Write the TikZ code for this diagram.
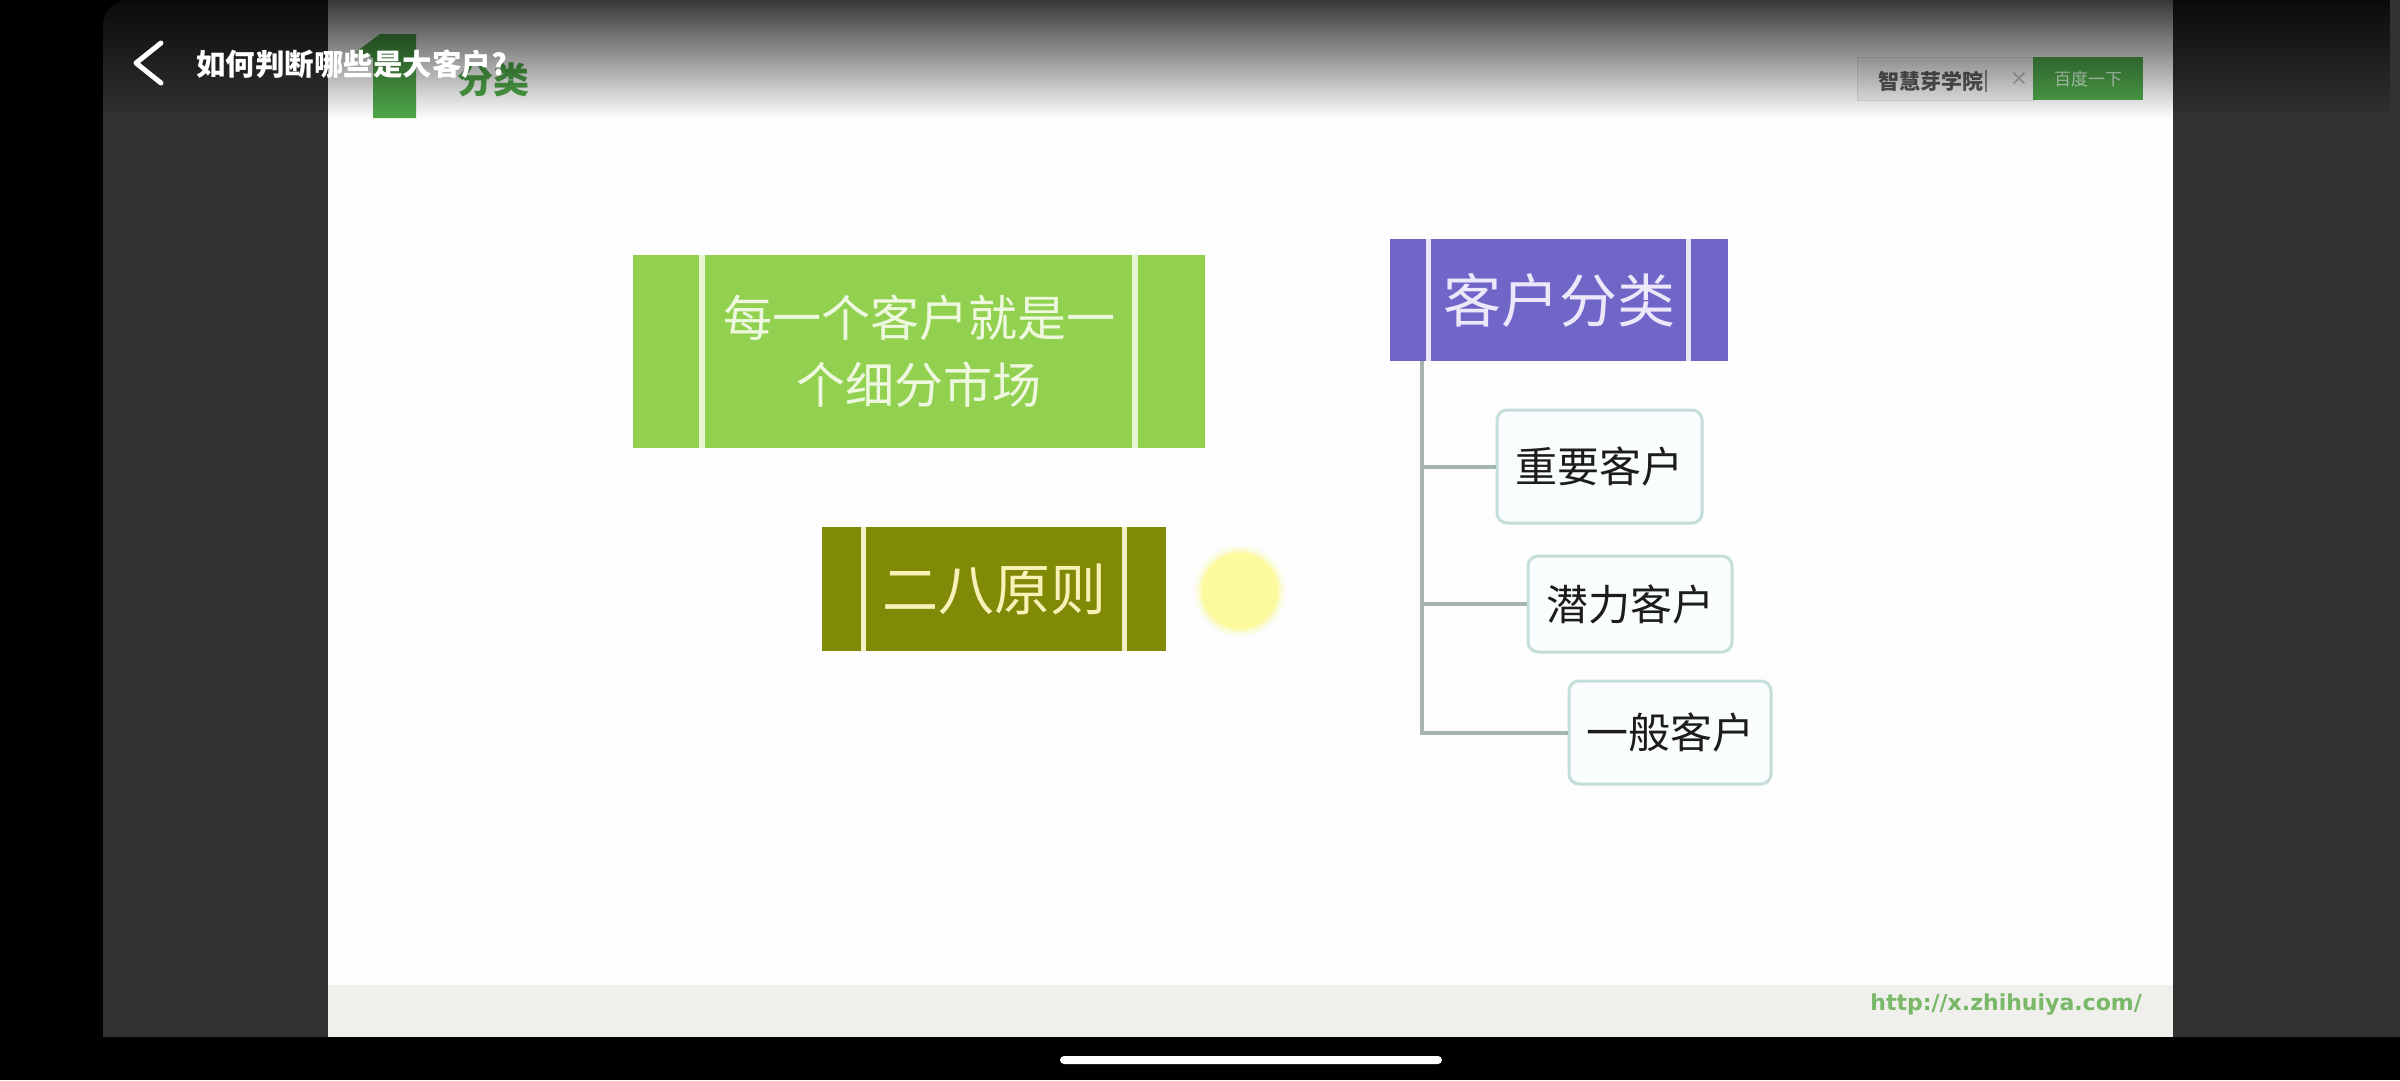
\documentclass[tikz,border=0pt]{standalone}
\usepackage{fontspec}
\setmainfont{Noto Sans CJK SC}
\newfontfamily\dvs{DejaVu Sans}
\usetikzlibrary{fadings}
\tikzfading[name=topfade, top color=transparent!22, middle color=transparent!78, bottom color=transparent!100]
\definecolor{panelc}{HTML}{323233}
\definecolor{slidec}{HTML}{FDFDFD}
\definecolor{bandc}{HTML}{EFEFEB}
\definecolor{boxA}{HTML}{92D050}
\definecolor{sepA}{HTML}{E6F4D2}
\definecolor{txtA}{HTML}{EEF8DE}
\definecolor{boxB}{HTML}{808A06}
\definecolor{sepB}{HTML}{F2F0C2}
\definecolor{txtB}{HTML}{F6F2B8}
\definecolor{boxC}{HTML}{7066C8}
\definecolor{sepC}{HTML}{E8E6F8}
\definecolor{txtC}{HTML}{ECE8FA}
\definecolor{childb}{HTML}{C4DEDA}
\definecolor{childf}{HTML}{FAFDFD}
\definecolor{childt}{HTML}{1C1C1C}
\definecolor{linkc}{HTML}{A6B6AE}
\definecolor{greenlogo}{HTML}{4FA84A}
\definecolor{urlc}{HTML}{78B868}
\definecolor{spotc}{HTML}{FBFA9C}
\definecolor{btnc}{HTML}{50A84C}
\tikzset{
  catbox/.style={inner sep=0pt, align=center},
  child/.style={draw=childb, line width=3pt, fill=childf, rounded corners=10pt,
    inner sep=0pt, text=childt, font=\fontsize{42}{50}\selectfont, minimum width=#1},
  link/.style={draw=linkc, line width=4pt},
}
\begin{document}
\begin{tikzpicture}[x=1pt,y=-1pt]
\useasboundingbox (0,0) rectangle (2400,1080);
\fill[black] (0,0) rectangle (2400,1080);
% dark app panel
\fill[panelc] (103,1037) {[rounded corners=25pt] -- (103,0) -- (600,0)} -- (2400,0) -- (2400,1037) -- cycle;
% slide
\fill[slidec] (328,0) rectangle (2173,1037);
\fill[bandc] (328,985) rectangle (2173,1037);
% slide header: green "1" and title
\fill[greenlogo] (356,52) -- (380,34) -- (416,34) -- (416,118) -- (373,118) -- (373,58) -- cycle;
\node[anchor=west, inner sep=0pt, text=greenlogo, font=\bfseries\fontsize{36}{40}\selectfont] (sec) at (457,80) {分类};
% search box
\node[fill=black!5, draw=black!13, line width=1pt, minimum width=176pt, minimum height=43pt, inner sep=0pt] (search) at (1945,78.5) {};
\node[anchor=west, inner sep=0pt, text=black!65, font=\bfseries\fontsize{21}{24}\selectfont] (stext) at (1878,81) {智慧芽学院};
\draw[black!45, line width=1.5pt] (1986,70) -- (1986,92);
\node[inner sep=0pt, text=black!28, font=\dvs\fontsize{22}{24}\selectfont] (close) at (2019,79) {×};
\node[fill=btnc, minimum width=110pt, minimum height=43pt, inner sep=0pt, text=green!8!white!85!btnc, font=\fontsize{17}{20}\selectfont] (btn) at (2088,78.5) {百度一下};
% green box
\node[catbox, fill=boxA, text=txtA, minimum width=572pt, minimum height=193pt, font=\fontsize{49}{67}\selectfont] (A) at (919,351.5) {每一个客户就是一\\个细分市场};
\draw[sepA, line width=6pt] ([xshift=69pt]A.north west) -- ([xshift=69pt]A.south west);
\draw[sepA, line width=6pt] ([xshift=-70pt]A.north east) -- ([xshift=-70pt]A.south east);
% olive box
\node[catbox, fill=boxB, text=txtB, minimum width=344pt, minimum height=124pt, font=\fontsize{56}{60}\selectfont] (B) at (994,589) {二八原则};
\draw[sepB, line width=5pt] ([xshift=41.5pt]B.north west) -- ([xshift=41.5pt]B.south west);
\draw[sepB, line width=5pt] ([xshift=-41.5pt]B.north east) -- ([xshift=-41.5pt]B.south east);
% pointer spot
\fill[spotc, opacity=0.25] (1240,591) circle[radius=45pt];
\fill[spotc, opacity=0.5] (1240,591) circle[radius=41pt];
\node[circle, fill=spotc, minimum size=76pt, inner sep=0pt] (spot) at (1240,591) {};
% purple box
\node[catbox, fill=boxC, text=txtC, minimum width=338pt, minimum height=122pt, font=\fontsize{58}{62}\selectfont] (C) at (1559,300) {客户分类};
\draw[sepC, line width=5pt] ([xshift=39pt]C.north west) -- ([xshift=39pt]C.south west);
\draw[sepC, line width=5pt] ([xshift=-40pt]C.north east) -- ([xshift=-40pt]C.south east);
% children
\node[child=205pt, minimum height=113pt] (k1) at (1599.5,466.5) {重要客户};
\node[child=204pt, minimum height=96pt] (k2) at (1630,604) {潜力客户};
\node[child=202pt, minimum height=103pt] (k3) at (1670,732.5) {一般客户};
\coordinate (t0) at ([xshift=32pt]C.south west);
\draw[link] (t0) -- (t0 |- k3.west) -- (k3.west);
\draw[link] (t0 |- k1.west) -- (k1.west);
\draw[link] (t0 |- k2.west) -- (k2.west);
% url
\node[anchor=base east, inner sep=0pt, text=urlc, font=\dvs\bfseries\fontsize{22}{24}\selectfont] (url) at (2142,1010) {http://x.zhihuiya.com/};
% top shade
\fill[black, path fading=topfade] (103,0) rectangle (2400,118);
% app title bar
\draw[white, line width=5pt, line cap=round, line join=round] (161,43) -- (136,63) -- (161,83);
\node[anchor=west, inner sep=0pt, text=white, font=\bfseries\fontsize{29.5}{34}\selectfont] (title) at (196,64) {如何判断哪些是大客户?};
% home indicator
\fill[white, rounded corners=4pt] (1060,1056) rectangle (1442,1064);
\end{tikzpicture}
\end{document}
